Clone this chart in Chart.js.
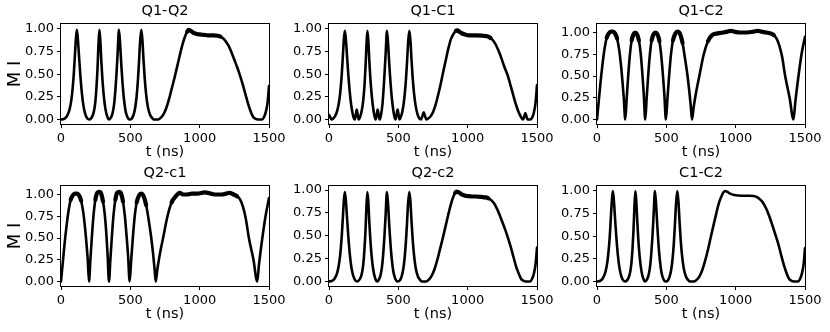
<!DOCTYPE html>
<html><head><meta charset="utf-8">
<script src="https://cdn.jsdelivr.net/npm/chart.js@4.4.1/dist/chart.umd.min.js"></script>
<style>
html,body{margin:0;padding:0;background:#fff;}
#wrap{position:relative;width:830px;height:332px;overflow:hidden;background:#fff;}
canvas{position:absolute;left:0;top:0;}
</style></head><body><div id="wrap">
<canvas id="c0" width="830" height="332"></canvas>
<canvas id="c1" width="830" height="332"></canvas>
<canvas id="c2" width="830" height="332"></canvas>
<canvas id="c3" width="830" height="332"></canvas>
<canvas id="c4" width="830" height="332"></canvas>
<canvas id="c5" width="830" height="332"></canvas>
</div>
<script>
const titles = ["Q1-Q2", "Q1-C1", "Q1-C2", "Q2-c1", "Q2-c2", "C1-C2"];
const xLabel = "t (ns)";
const yLabel = "M I";
const xTicks = [0, 500, 1000, 1500];
const yTicks = [0, 0.25, 0.5, 0.75, 1.0];
const xRange = [0, 1500];
const yRanges = [[-0.05, 1.055], [-0.05, 1.055], [-0.052, 1.098], [-0.052, 1.098], [-0.05, 1.045], [-0.05, 1.055]];

// Q1-Q2
const q1q2T = [0,20,40,60,75,85,93,100,107,114,121,130,139,150,162,175,190,205,
 215,230,240,248,256,263,270,277,284,291,298,308,320,332,347,
 360,372,383,392,400,408,418,427,435,443,453,465,478,495,
 510,523,535,545,554,562,570,579,587,595,603,613,625,640,655,670,
 700,720,740,760,780,800,820,840,860,880,900,910,920,930,945,960,980,1000,1030,1060,1100,1130,
 1150,1170,1190,1210,1230,1250,1270,1290,1310,1330,1350,1370,1385,1400,1420,1450,1465,1478,1490,1500];
const q1q2V = [0,0.005,0.03,0.10,0.22,0.36,0.52,0.70,0.88,0.99,0.90,0.70,0.50,0.30,0.15,0.06,0.01,0.00,
 0.01,0.05,0.11,0.20,0.36,0.55,0.82,0.99,0.86,0.64,0.46,0.27,0.12,0.04,0.00,
 0.02,0.07,0.17,0.32,0.50,0.72,0.99,0.82,0.60,0.42,0.24,0.10,0.03,0.00,
 0.01,0.05,0.13,0.25,0.42,0.62,0.85,0.99,0.88,0.66,0.47,0.29,0.15,0.06,0.02,0.00,
 0.00,0.02,0.06,0.13,0.23,0.35,0.47,0.60,0.73,0.85,0.94,0.97,0.99,0.985,0.97,0.955,0.945,0.94,0.935,0.93,0.93,0.925,
 0.915,0.895,0.86,0.81,0.74,0.66,0.58,0.49,0.39,0.28,0.17,0.08,0.03,0.01,0.00,0.00,0.03,0.09,0.19,0.37];

// Q1-C1
const q1c1T = [0,8,18,30,45,60,75,85,93,100,107,114,121,130,139,150,160,170,180,186,193,200,207,214,
 222,232,242,250,257,264,270,277,284,291,298,308,318,328,336,344,351,358,365,
 375,385,393,401,409,418,427,435,443,453,463,472,479,487,495,502,509,
 518,528,538,547,555,563,571,579,587,595,603,613,625,638,652,664,674,683,692,702,
 715,730,750,770,790,805,820,840,860,880,900,915,925,940,960,980,1010,1060,1110,1140,
 1165,1185,1205,1225,1245,1265,1288,1305,1325,1345,1365,1380,1392,1400,1408,1416,1424,1432,1450,1465,1478,1490,1500];
const q1c1V = [0.05,0.03,0.00,0.01,0.04,0.10,0.22,0.36,0.52,0.70,0.88,0.98,0.90,0.70,0.50,0.30,0.16,0.07,0.01,0.00,0.05,0.11,0.05,0.00,
 0.02,0.07,0.15,0.26,0.40,0.60,0.82,0.98,0.86,0.64,0.46,0.27,0.13,0.04,0.00,0.05,0.11,0.05,0.00,
 0.05,0.16,0.32,0.52,0.74,0.98,0.82,0.60,0.42,0.24,0.11,0.03,0.00,0.05,0.11,0.05,0.00,
 0.03,0.08,0.17,0.29,0.44,0.64,0.86,0.98,0.88,0.66,0.47,0.29,0.15,0.06,0.01,0.00,0.04,0.08,0.04,0.00,
 0.01,0.03,0.08,0.17,0.29,0.39,0.50,0.64,0.78,0.89,0.95,0.98,0.985,0.97,0.95,0.94,0.93,0.93,0.925,0.92,
 0.90,0.87,0.82,0.75,0.67,0.58,0.49,0.40,0.29,0.18,0.09,0.04,0.01,0.00,0.035,0.07,0.035,0.00,0.00,0.02,0.08,0.19,0.38];

// Q1-C2
const q1c2T = [0,12,25,40,55,70,85,100,115,130,145,160,172,183,193,204,
 214,225,237,250,263,276,289,302,315,326,337,348,
 358,369,381,394,408,422,436,450,463,475,486,497,
 508,520,533,548,565,582,600,617,633,653,666,676,685,
 697,710,724,738,770,800,830,870,910,940,966,990,1030,1080,1130,1158,1185,1220,1250,1275,1295,
 1315,1335,1357,1389,1417,1430,1453,1475,1500];
const q1c2V = [0.00,0.20,0.42,0.64,0.82,0.94,0.99,1.01,1.01,0.99,0.93,0.80,0.64,0.45,0.25,0.00,
 0.24,0.50,0.74,0.91,0.98,1.00,0.98,0.91,0.76,0.55,0.30,0.00,
 0.24,0.50,0.74,0.91,0.98,1.00,0.98,0.90,0.74,0.52,0.28,0.00,
 0.24,0.50,0.74,0.91,0.99,1.01,0.98,0.88,0.72,0.50,0.32,0.16,0.00,
 0.14,0.27,0.39,0.50,0.75,0.90,0.97,0.99,1.00,1.01,1.02,1.01,1.00,1.00,1.01,1.02,1.01,1.00,0.99,0.97,0.93,
 0.85,0.72,0.50,0.25,0.00,0.20,0.50,0.75,0.95];

// Q2-c1
const q2c1T = [0,12,25,40,55,70,85,100,115,130,145,160,172,183,193,202,
 212,223,235,248,262,276,290,303,315,326,336,346,
 356,367,379,392,405,419,433,447,460,472,484,495,
 506,518,531,546,563,578,596,614,631,651,664,674,683,
 695,708,722,736,768,798,828,856,880,910,945,985,1036,1080,1120,1160,1190,1216,1245,1270,1292,
 1312,1333,1355,1388,1415,1428,1452,1475,1500];
const q2c1V = [0.00,0.20,0.42,0.64,0.82,0.94,0.99,1.01,1.01,0.99,0.93,0.80,0.64,0.45,0.25,0.00,
 0.25,0.52,0.77,0.94,1.02,1.03,1.01,0.92,0.78,0.57,0.31,0.00,
 0.25,0.52,0.77,0.94,1.02,1.03,1.01,0.92,0.76,0.54,0.29,0.00,
 0.24,0.50,0.74,0.91,0.99,1.01,0.98,0.88,0.72,0.50,0.32,0.16,0.00,
 0.14,0.27,0.39,0.50,0.75,0.91,0.98,1.02,1.00,1.00,1.01,1.01,1.025,1.01,1.00,1.00,1.01,1.02,1.00,0.98,0.94,
 0.86,0.72,0.50,0.25,0.00,0.20,0.50,0.75,0.96];

// Q2-c2
const q2c2T = [0,20,40,60,75,85,93,100,107,114,121,130,139,150,162,175,190,205,
 215,230,240,248,256,263,270,277,284,291,298,308,320,332,347,
 360,372,383,392,400,408,418,427,435,443,453,465,478,495,
 510,523,535,545,554,562,570,579,587,595,603,613,625,640,655,670,
 700,720,740,760,780,800,820,840,860,880,900,910,920,930,945,960,980,1000,1030,1060,1100,1130,
 1150,1170,1190,1210,1230,1250,1270,1290,1310,1330,1350,1370,1385,1400,1420,1450,1465,1478,1490,1500];
const q2c2V = [0,0.005,0.03,0.10,0.22,0.36,0.52,0.70,0.88,0.98,0.90,0.70,0.50,0.30,0.15,0.06,0.01,0.00,
 0.01,0.05,0.11,0.20,0.36,0.55,0.82,0.98,0.86,0.64,0.46,0.27,0.12,0.04,0.00,
 0.02,0.07,0.17,0.32,0.50,0.72,0.98,0.82,0.60,0.42,0.24,0.10,0.03,0.00,
 0.01,0.05,0.13,0.25,0.42,0.62,0.85,0.98,0.88,0.66,0.47,0.29,0.15,0.06,0.02,0.00,
 0.00,0.02,0.06,0.13,0.23,0.35,0.47,0.60,0.73,0.85,0.94,0.97,0.985,0.98,0.965,0.95,0.94,0.935,0.93,0.93,0.925,0.92,
 0.91,0.89,0.855,0.80,0.73,0.65,0.57,0.48,0.38,0.27,0.16,0.08,0.03,0.01,0.00,0.00,0.03,0.09,0.19,0.37];

// C1-C2
const c1c2T = [0,20,40,60,75,85,93,100,107,114,121,130,139,150,162,175,190,205,
 215,230,240,248,256,263,270,277,284,291,298,308,320,332,347,
 360,372,383,392,400,408,418,427,435,443,453,465,478,495,
 510,523,535,545,554,562,570,579,587,595,603,613,625,640,655,670,
 700,720,740,760,780,800,822,840,860,880,900,912,925,940,960,990,1020,1060,1100,1130,
 1150,1170,1190,1205,1225,1245,1265,1290,1310,1330,1350,1370,1385,1400,1420,1450,1465,1478,1490,1500];
const c1c2V = [0,0.005,0.03,0.10,0.22,0.36,0.52,0.71,0.89,1.00,0.91,0.70,0.50,0.30,0.15,0.06,0.01,0.00,
 0.01,0.05,0.11,0.20,0.36,0.56,0.83,1.00,0.87,0.65,0.46,0.27,0.12,0.04,0.00,
 0.02,0.07,0.17,0.32,0.50,0.73,1.00,0.83,0.61,0.42,0.24,0.10,0.03,0.00,
 0.01,0.05,0.13,0.25,0.42,0.63,0.86,1.00,0.89,0.67,0.47,0.29,0.15,0.06,0.02,0.00,
 0.00,0.02,0.06,0.13,0.23,0.35,0.50,0.62,0.75,0.87,0.95,0.985,1.00,0.99,0.97,0.955,0.95,0.948,0.948,0.945,
 0.935,0.915,0.885,0.85,0.79,0.71,0.62,0.50,0.40,0.28,0.17,0.08,0.03,0.01,0.00,0.00,0.03,0.09,0.19,0.37];

const seriesT = [q1q2T, q1c1T, q1c2T, q2c1T, q2c2T, c1c2T];
const seriesV = [q1q2V, q1c1V, q1c2V, q2c1V, q2c2V, c1c2V];

// style: time windows where the trace is drawn as a thicker (blurred, fast-oscillating) band
const bandRanges = [
  [[905, 1165]],
  [[905, 1165]],
  [[60, 150], [245, 310], [390, 455], [545, 620], [790, 1290]],
  [[60, 150], [245, 310], [390, 455], [545, 620], [790, 1290]],
  [[905, 1165]],
  []
];

// layout: plot-area boxes in pixels
const colLeft = [61, 329, 597];
const colRight = [269, 537, 805];
const rowTop = [24, 186];
const rowBottom = [124, 286];
const W = 830, H = 332;
const Y_AXIS_W = 61, X_AXIS_H = 40, TITLE_H = 24;

Chart.defaults.font.family = "'DejaVu Sans', sans-serif";
Chart.defaults.color = '#000';

const boxPlugin = {
  id: 'box',
  afterDatasetsDraw(chart) {
    const a = chart.chartArea, c = chart.ctx;
    c.save();
    c.strokeStyle = '#000';
    c.lineWidth = 1;
    c.strokeRect(a.left - 0.5, a.top - 0.5, a.right - a.left + 1, a.bottom - a.top + 1);
    c.restore();
  }
};

function inBand(i, x) {
  return bandRanges[i].some(r => x >= r[0] && x <= r[1]);
}

for (let i = 0; i < 6; i++) {
  const col = i % 3, row = Math.floor(i / 3);
  const T = seriesT[i], V = seriesV[i];
  const pts = T.map((t, k) => ({x: t, y: V[k]}));
  new Chart(document.getElementById('c' + i), {
    type: 'line',
    data: { datasets: [{
      data: pts,
      borderColor: '#000',
      borderWidth: 2.6,
      borderCapStyle: 'round',
      borderJoinStyle: 'round',
      pointRadius: 0,
      fill: false,
      cubicInterpolationMode: 'monotone',
      segment: {
        borderWidth: ctx => (inBand(i, ctx.p0.parsed.x) && inBand(i, ctx.p1.parsed.x)) ? 4.2 : 2.6
      }
    }]},
    options: {
      responsive: false,
      animation: false,
      devicePixelRatio: 1,
      layout: { padding: {
        left: colLeft[col] - Y_AXIS_W,
        right: W - colRight[col],
        top: rowTop[row] - TITLE_H,
        bottom: H - rowBottom[row] - X_AXIS_H
      }},
      plugins: {
        legend: { display: false },
        tooltip: { enabled: false },
        title: {
          display: true, text: titles[i], fullSize: false, color: '#000',
          font: { size: 14.5, weight: 'normal' },
          padding: { top: 3, bottom: 3.6 }
        }
      },
      scales: {
        x: {
          type: 'linear', min: xRange[0], max: xRange[1],
          afterFit(s) { s.height = X_AXIS_H; },
          afterBuildTicks(s) { s.ticks = xTicks.map(v => ({value: v})); },
          ticks: { color: '#000', font: { size: 13 }, padding: 3, maxRotation: 0, autoSkip: false, callback: v => String(v) },
          grid: { drawOnChartArea: false, drawTicks: true, tickLength: 4, tickColor: '#000', color: '#000' },
          border: { display: false },
          title: { display: true, text: xLabel, color: '#000', font: { size: 14.5 }, padding: { top: 0, bottom: 2.8 } }
        },
        y: {
          type: 'linear', min: yRanges[i][0], max: yRanges[i][1],
          afterFit(s) { s.width = Y_AXIS_W; },
          afterBuildTicks(s) { s.ticks = yTicks.map(v => ({value: v})); },
          ticks: { color: '#000', font: { size: 13 }, padding: 3, callback: v => Number(v).toFixed(2) },
          grid: { drawOnChartArea: false, drawTicks: true, tickLength: 4, tickColor: '#000', color: '#000' },
          border: { display: false },
          title: { display: col === 0, text: yLabel, color: '#000', font: { size: 18 }, padding: { top: 4.2, bottom: 0 } }
        }
      }
    },
    plugins: [boxPlugin]
  });
}
</script>
</body></html>
